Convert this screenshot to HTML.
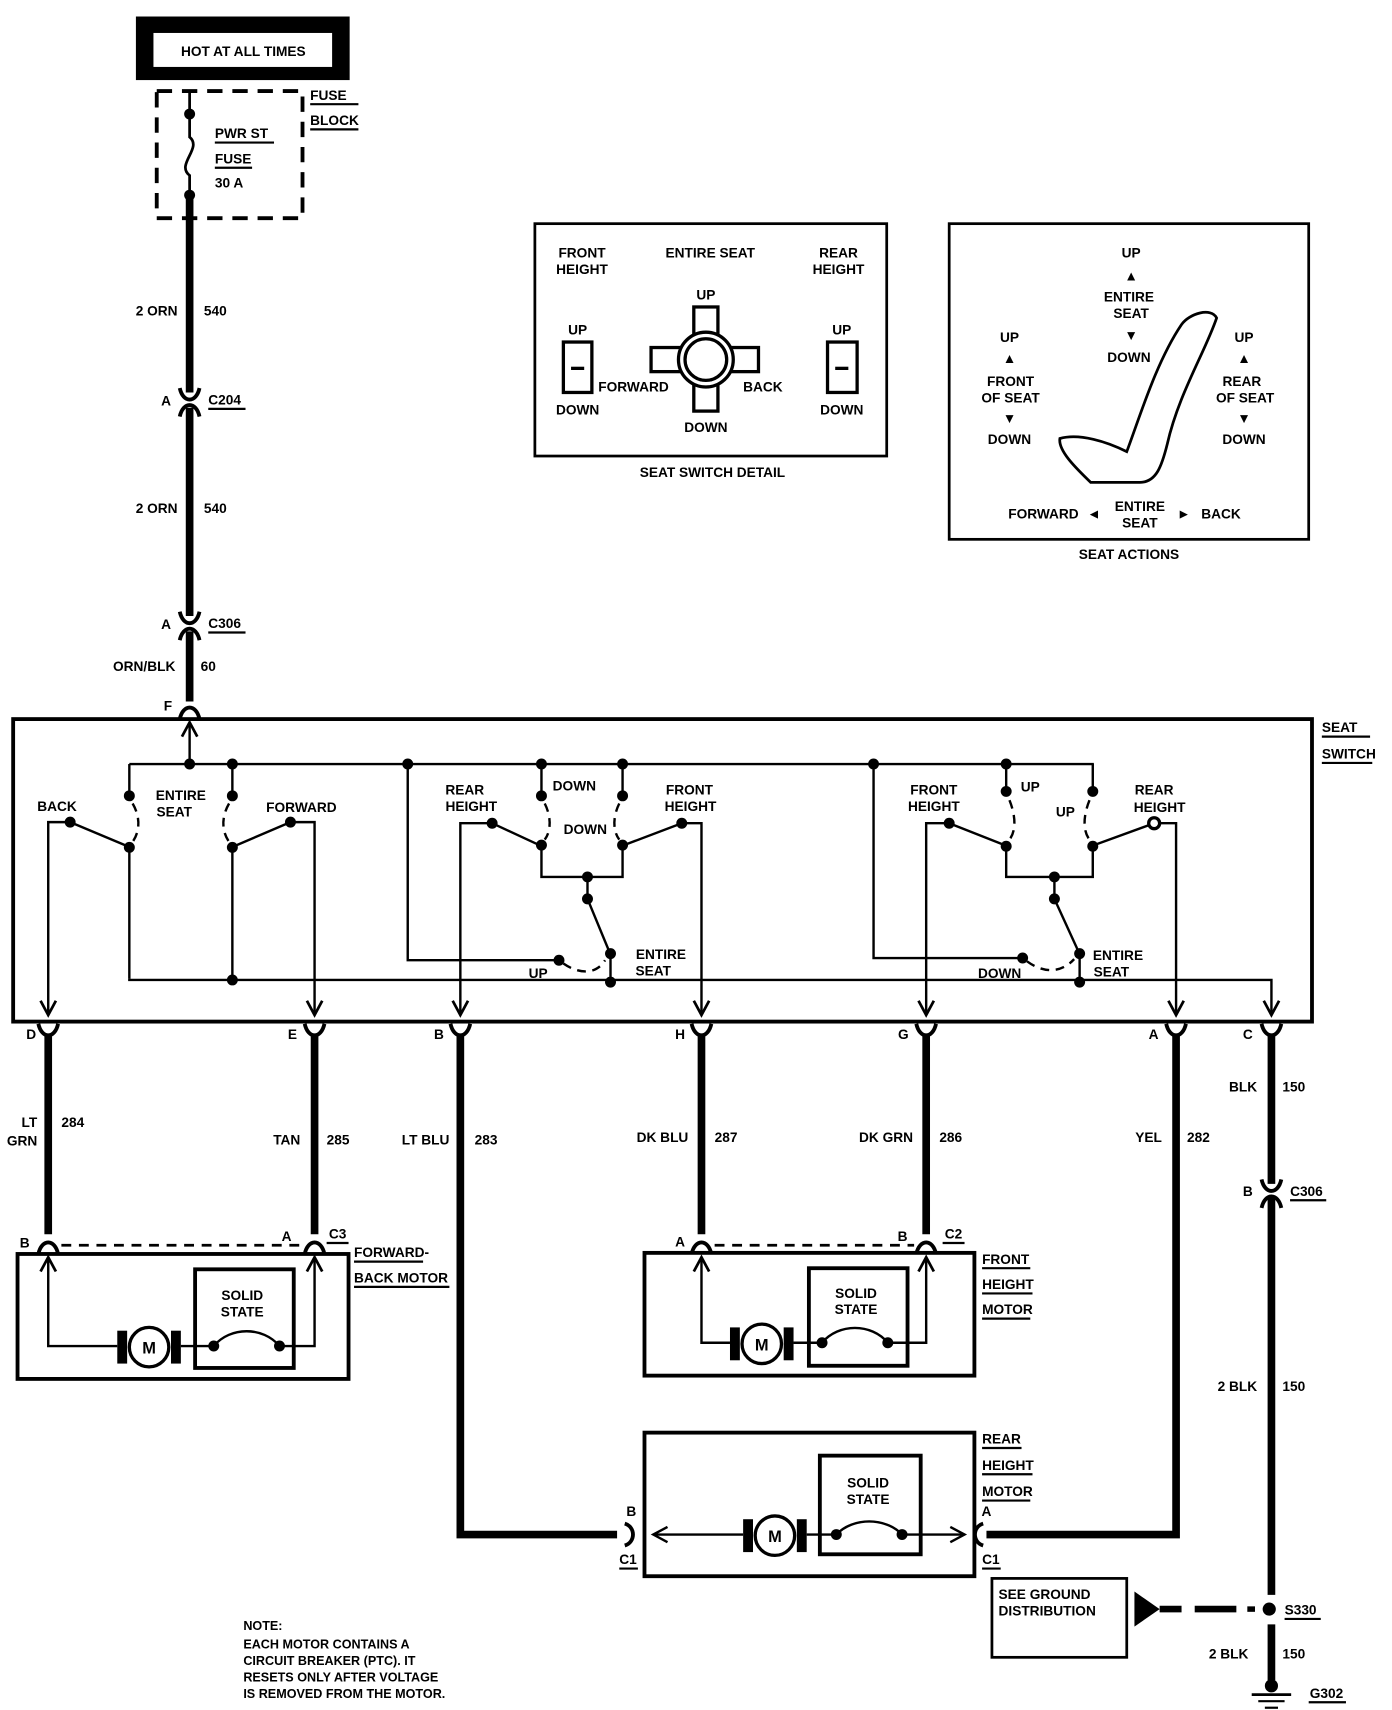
<!DOCTYPE html>
<html><head><meta charset="utf-8"><style>
html,body{margin:0;padding:0;background:#fff}
svg{display:block}
text{font-family:"Liberation Sans",sans-serif;font-weight:bold;font-size:12.5px;fill:#000}
.m{text-anchor:middle}.e{text-anchor:end}
</style></head><body>
<svg width="1392" height="1710" viewBox="0 0 1270 1560" xmlns="http://www.w3.org/2000/svg">
<defs>
<g id="dn"><polyline points="-7,-13 0,0 7,-13" fill="none" stroke="#000" stroke-width="2.5"/></g>
<g id="up"><polyline points="-7,13 0,0 7,13" fill="none" stroke="#000" stroke-width="2.5"/></g>
<g id="yc"><path d="M-9,-8 C-6,6 6,6 9,-8" fill="none" stroke="#000" stroke-width="3.5"/></g>
<g id="ac"><path d="M-9,8 C-6,-6 6,-6 9,8" fill="none" stroke="#000" stroke-width="3.5"/></g>
</defs>
<!-- HOT AT ALL TIMES -->
<rect x="124" y="15" width="195" height="58" fill="#000"/>
<rect x="140" y="30" width="163" height="31" fill="#fff"/>
<text x="222" y="51" class="m">HOT AT ALL TIMES</text>
<rect x="143" y="83" width="133" height="116" fill="none" stroke="#000" stroke-width="3.5" stroke-dasharray="14,9"/>
<text x="283" y="91">FUSE</text><line x1="283" y1="95" x2="327" y2="95" stroke="#000" stroke-width="2"/>
<text x="283" y="114">BLOCK</text><line x1="283" y1="118" x2="327" y2="118" stroke="#000" stroke-width="2"/>
<path d="M173,83 L173,104 L173,125 C185,135 160,150 173,160 L173,178" fill="none" stroke="#000" stroke-width="2.5"/>
<circle cx="173" cy="104" r="5"/><circle cx="173" cy="178" r="5"/>
<text x="196" y="126">PWR ST</text><line x1="196" y1="130" x2="250" y2="130" stroke="#000" stroke-width="2"/>
<text x="196" y="149">FUSE</text><line x1="196" y1="153" x2="230" y2="153" stroke="#000" stroke-width="2"/>
<text x="196" y="171">30 A</text>
<!-- main feed -->
<g stroke="#000" stroke-width="7">
<line x1="173" y1="178" x2="173" y2="358"/><line x1="173" y1="372" x2="173" y2="562"/>
<line x1="173" y1="576" x2="173" y2="640"/>
</g>
<use href="#yc" x="173" y="362"/><use href="#ac" x="173" y="372"/>
<use href="#yc" x="173" y="566"/><use href="#ac" x="173" y="576"/>
<use href="#ac" x="173" y="648"/>
<text x="162" y="288" class="e">2 ORN</text><text x="186" y="288">540</text>
<text x="156" y="370" class="e">A</text><text x="190" y="369">C204</text><line x1="190" y1="373" x2="224" y2="373" stroke="#000" stroke-width="2"/>
<text x="162" y="468" class="e">2 ORN</text><text x="186" y="468">540</text>
<text x="156" y="574" class="e">A</text><text x="190" y="573">C306</text><line x1="190" y1="577" x2="224" y2="577" stroke="#000" stroke-width="2"/>
<text x="160" y="612" class="e">ORN/BLK</text><text x="183" y="612">60</text>
<text x="157" y="648" class="e">F</text>
<!-- seat switch box -->
<rect x="12" y="656" width="1185" height="276" fill="none" stroke="#000" stroke-width="3.5"/>
<text x="1206" y="668">SEAT</text><line x1="1206" y1="672" x2="1250" y2="672" stroke="#000" stroke-width="2"/>
<text x="1206" y="692">SWITCH</text><line x1="1206" y1="696" x2="1252" y2="696" stroke="#000" stroke-width="2"/>
<g fill="none" stroke="#000" stroke-width="2.2">
<polyline points="173,697 173,660"/>
<line x1="118" y1="697" x2="998" y2="697"/>
<!-- left group -->
<polyline points="118,697 118,725"/><polyline points="118,773 118,893"/>
<polyline points="212,697 212,725"/><polyline points="212,773 212,893"/>
<path d="M121,733 C128,745 128,758 121,768" stroke-dasharray="8,6"/>
<path d="M209,733 C202,745 202,758 209,768" stroke-dasharray="8,6"/>
<polyline points="64,750 44,750 44,926"/><polyline points="265,750 287,750 287,926"/>
<line x1="64" y1="750" x2="114" y2="771"/><line x1="265" y1="750" x2="216" y2="771"/>
<!-- middle group -->
<polyline points="372,697 372,876 510,876"/>
<polyline points="494,697 494,725"/><polyline points="568,697 568,725"/>
<path d="M497,733 C503,745 503,758 497,766" stroke-dasharray="8,6"/>
<path d="M565,733 C559,745 559,758 565,766" stroke-dasharray="8,6"/>
<polyline points="494,771 494,800 568,800 568,771"/>
<line x1="536" y1="800" x2="536" y2="820"/>
<line x1="536" y1="820" x2="555" y2="866"/>
<path d="M514,879 C530,890 545,888 552,876" stroke-dasharray="8,6"/>
<line x1="557" y1="870" x2="557" y2="893"/>
<polyline points="449,751 420,751 420,926"/><polyline points="622,751 640,751 640,926"/>
<line x1="449" y1="751" x2="490" y2="770"/><line x1="622" y1="751" x2="572" y2="770"/>
<!-- right group -->
<polyline points="797,697 797,874 933,874"/>
<polyline points="918,697 918,722"/><polyline points="997,697 997,722"/>
<path d="M921,730 C927,745 927,758 921,766" stroke-dasharray="8,6"/>
<path d="M994,730 C988,745 988,758 994,766" stroke-dasharray="8,6"/>
<polyline points="918,772 918,800 997,800 997,772"/>
<line x1="962" y1="800" x2="962" y2="820"/>
<line x1="962" y1="820" x2="983" y2="866"/>
<path d="M937,877 C952,888 968,888 980,875" stroke-dasharray="8,6"/>
<line x1="985" y1="870" x2="985" y2="895"/>
<polyline points="866,751 845,751 845,926"/><polyline points="1053,751 1073,751 1073,926"/>
<line x1="866" y1="751" x2="914" y2="770"/><line x1="1053" y1="751" x2="1001" y2="770"/>
<!-- bottom line -->
<polyline points="118,893 118,894 1160,894 1160,926"/>
</g>
<use href="#up" x="173" y="659"/>
<g>
<use href="#dn" x="44" y="926"/><use href="#dn" x="287" y="926"/><use href="#dn" x="420" y="926"/><use href="#dn" x="640" y="926"/>
<use href="#dn" x="845" y="926"/><use href="#dn" x="1073" y="926"/><use href="#dn" x="1160" y="926"/>
</g>
<g>
<circle cx="173" cy="697" r="5"/><circle cx="212" cy="697" r="5"/><circle cx="118" cy="726" r="5"/><circle cx="212" cy="726" r="5"/>
<circle cx="118" cy="773" r="5"/><circle cx="212" cy="773" r="5"/><circle cx="64" cy="750" r="5"/><circle cx="265" cy="750" r="5"/><circle cx="212" cy="894" r="5"/>
<circle cx="372" cy="697" r="5"/><circle cx="494" cy="697" r="5"/><circle cx="568" cy="697" r="5"/><circle cx="494" cy="726" r="5"/><circle cx="568" cy="726" r="5"/>
<circle cx="494" cy="771" r="5"/><circle cx="568" cy="771" r="5"/><circle cx="449" cy="751" r="5"/><circle cx="622" cy="751" r="5"/>
<circle cx="536" cy="800" r="5"/><circle cx="536" cy="820" r="5"/><circle cx="557" cy="870" r="5"/><circle cx="510" cy="876" r="5"/><circle cx="557" cy="896" r="5"/>
<circle cx="797" cy="697" r="5"/><circle cx="918" cy="697" r="5"/><circle cx="918" cy="722" r="5"/><circle cx="997" cy="722" r="5"/>
<circle cx="918" cy="772" r="5"/><circle cx="997" cy="772" r="5"/><circle cx="866" cy="751" r="5"/><circle cx="1053" cy="751" r="5" fill="#fff" stroke="#000" stroke-width="3"/>
<circle cx="962" cy="800" r="5"/><circle cx="962" cy="820" r="5"/><circle cx="985" cy="870" r="5"/><circle cx="933" cy="874" r="5"/><circle cx="985" cy="896" r="5"/>
</g>
<text x="52" y="740" class="m">BACK</text><text x="165" y="730" class="m">ENTIRE</text><text x="159" y="745" class="m">SEAT</text><text x="275" y="741" class="m">FORWARD</text>
<text x="424" y="725" class="m">REAR</text><text x="430" y="740" class="m">HEIGHT</text>
<text x="524" y="721" class="m">DOWN</text><text x="534" y="761" class="m">DOWN</text>
<text x="629" y="725" class="m">FRONT</text><text x="630" y="740" class="m">HEIGHT</text>
<text x="603" y="875" class="m">ENTIRE</text><text x="596" y="890" class="m">SEAT</text><text x="491" y="892" class="m">UP</text>
<text x="852" y="725" class="m">FRONT</text><text x="852" y="740" class="m">HEIGHT</text>
<text x="940" y="722" class="m">UP</text><text x="972" y="745" class="m">UP</text>
<text x="1053" y="725" class="m">REAR</text><text x="1058" y="741" class="m">HEIGHT</text>
<text x="1020" y="876" class="m">ENTIRE</text><text x="1014" y="891" class="m">SEAT</text><text x="912" y="892" class="m">DOWN</text>
<!-- connectors under switch -->
<g>
<use href="#yc" x="44" y="942"/><use href="#yc" x="287" y="942"/><use href="#yc" x="420" y="942"/><use href="#yc" x="640" y="942"/>
<use href="#yc" x="845" y="942"/><use href="#yc" x="1073" y="942"/><use href="#yc" x="1160" y="942"/>
</g>
<text x="33" y="948" class="e">D</text><text x="271" y="948" class="e">E</text><text x="405" y="948" class="e">B</text><text x="625" y="948" class="e">H</text>
<text x="829" y="948" class="e">G</text><text x="1057" y="948" class="e">A</text><text x="1143" y="948" class="e">C</text>
<g stroke="#000" stroke-width="7" fill="none">
<line x1="44" y1="945" x2="44" y2="1126"/><line x1="287" y1="945" x2="287" y2="1126"/>
<polyline points="420,945 420,1400 563,1400"/>
<line x1="640" y1="945" x2="640" y2="1126"/><line x1="845" y1="945" x2="845" y2="1126"/>
<polyline points="1073,945 1073,1400 900,1400"/>
<line x1="1160" y1="945" x2="1160" y2="1080"/><line x1="1160" y1="1092" x2="1160" y2="1455"/>
<line x1="1160" y1="1482" x2="1160" y2="1533"/>
</g>
<use href="#yc" x="1160" y="1084"/><use href="#ac" x="1160" y="1094"/>
<text x="34" y="1028" class="e">LT</text><text x="34" y="1045" class="e">GRN</text><text x="56" y="1028">284</text>
<text x="274" y="1044" class="e">TAN</text><text x="298" y="1044">285</text>
<text x="410" y="1044" class="e">LT BLU</text><text x="433" y="1044">283</text>
<text x="628" y="1042" class="e">DK BLU</text><text x="652" y="1042">287</text>
<text x="833" y="1042" class="e">DK GRN</text><text x="857" y="1042">286</text>
<text x="1060" y="1042" class="e">YEL</text><text x="1083" y="1042">282</text>
<text x="1147" y="996" class="e">BLK</text><text x="1170" y="996">150</text>
<text x="1143" y="1091" class="e">B</text><text x="1177" y="1091">C306</text><line x1="1177" y1="1095" x2="1210" y2="1095" stroke="#000" stroke-width="2"/>
<text x="1147" y="1269" class="e">2 BLK</text><text x="1170" y="1269">150</text>
<!-- motor 1 -->
<use href="#ac" x="44" y="1136"/><use href="#ac" x="287" y="1136"/>
<line x1="56" y1="1136" x2="276" y2="1136" stroke="#000" stroke-width="2.5" stroke-dasharray="9,7"/>
<text x="27" y="1138" class="e">B</text><text x="266" y="1132" class="e">A</text>
<text x="300" y="1130">C3</text><line x1="298" y1="1134" x2="318" y2="1134" stroke="#000" stroke-width="2"/>
<rect x="16" y="1144" width="302" height="114" fill="none" stroke="#000" stroke-width="3.5"/>
<text x="323" y="1147">FORWARD-</text><line x1="323" y1="1151" x2="386" y2="1151" stroke="#000" stroke-width="2"/>
<text x="323" y="1170">BACK MOTOR</text><line x1="323" y1="1174" x2="410" y2="1174" stroke="#000" stroke-width="2"/>
<rect x="178" y="1158" width="90" height="90" fill="none" stroke="#000" stroke-width="3.5"/>
<text x="221" y="1186" class="m">SOLID</text><text x="221" y="1201" class="m">STATE</text>
<g fill="none" stroke="#000" stroke-width="2.2">
<polyline points="44,1148 44,1228 107,1228"/><polyline points="165,1228 195,1228"/>
<path d="M195,1228 C210,1210 240,1210 255,1228"/><polyline points="255,1228 287,1228 287,1148"/>
</g>
<use href="#up" x="44" y="1147"/><use href="#up" x="287" y="1147"/>
<rect x="107" y="1214" width="9" height="30"/><rect x="156" y="1214" width="9" height="30"/>
<circle cx="136" cy="1229" r="18" fill="#fff" stroke="#000" stroke-width="3"/><text x="136" y="1235" class="m" style="font-size:15px">M</text>
<circle cx="195" cy="1228" r="5"/><circle cx="255" cy="1228" r="5"/>
<!-- motor 2 -->
<use href="#ac" x="640" y="1136"/><use href="#ac" x="845" y="1136"/>
<line x1="652" y1="1136" x2="834" y2="1136" stroke="#000" stroke-width="2.5" stroke-dasharray="9,7"/>
<text x="625" y="1137" class="e">A</text><text x="828" y="1132" class="e">B</text>
<text x="862" y="1130">C2</text><line x1="860" y1="1134" x2="880" y2="1134" stroke="#000" stroke-width="2"/>
<rect x="588" y="1143" width="301" height="112" fill="none" stroke="#000" stroke-width="3.5"/>
<text x="896" y="1153">FRONT</text><line x1="896" y1="1157" x2="940" y2="1157" stroke="#000" stroke-width="2"/>
<text x="896" y="1176">HEIGHT</text><line x1="896" y1="1180" x2="942" y2="1180" stroke="#000" stroke-width="2"/>
<text x="896" y="1199">MOTOR</text><line x1="896" y1="1203" x2="940" y2="1203" stroke="#000" stroke-width="2"/>
<rect x="738" y="1157" width="90" height="89" fill="none" stroke="#000" stroke-width="3.5"/>
<text x="781" y="1184" class="m">SOLID</text><text x="781" y="1199" class="m">STATE</text>
<g fill="none" stroke="#000" stroke-width="2.2">
<polyline points="640,1148 640,1225 666,1225"/><polyline points="724,1225 750,1225"/>
<path d="M750,1225 C765,1207 795,1207 810,1225"/><polyline points="810,1225 845,1225 845,1148"/>
</g>
<use href="#up" x="640" y="1147"/><use href="#up" x="845" y="1147"/>
<rect x="666" y="1211" width="9" height="30"/><rect x="715" y="1211" width="9" height="30"/>
<circle cx="695" cy="1226" r="18" fill="#fff" stroke="#000" stroke-width="3"/><text x="695" y="1232" class="m" style="font-size:15px">M</text>
<circle cx="750" cy="1225" r="5"/><circle cx="810" cy="1225" r="5"/>
<!-- motor 3 -->
<rect x="588" y="1307" width="301" height="131" fill="none" stroke="#000" stroke-width="3.5"/>
<text x="896" y="1317">REAR</text><line x1="896" y1="1321" x2="932" y2="1321" stroke="#000" stroke-width="2"/>
<text x="896" y="1341">HEIGHT</text><line x1="896" y1="1345" x2="942" y2="1345" stroke="#000" stroke-width="2"/>
<text x="896" y="1365">MOTOR</text><line x1="896" y1="1369" x2="940" y2="1369" stroke="#000" stroke-width="2"/>
<rect x="748" y="1328" width="92" height="90" fill="none" stroke="#000" stroke-width="3.5"/>
<text x="792" y="1357" class="m">SOLID</text><text x="792" y="1372" class="m">STATE</text>
<g fill="none" stroke="#000" stroke-width="2.2">
<polyline points="597,1400 678,1400"/><polyline points="736,1400 763,1400"/>
<path d="M763,1400 C778,1384 808,1384 823,1400"/><polyline points="823,1400 880,1400"/>
<polyline points="609,1393 596,1400 609,1407"/><polyline points="867,1393 880,1400 867,1407"/>
<path d="M570,1390 C580,1393 580,1407 570,1410" stroke-width="3.5"/>
<path d="M897,1390 C887,1393 887,1407 897,1410" stroke-width="3.5"/>
</g>
<rect x="678" y="1386" width="9" height="30"/><rect x="727" y="1386" width="9" height="30"/>
<circle cx="707" cy="1401" r="18" fill="#fff" stroke="#000" stroke-width="3"/><text x="707" y="1407" class="m" style="font-size:15px">M</text>
<circle cx="763" cy="1400" r="5"/><circle cx="823" cy="1400" r="5"/>
<text x="576" y="1383" class="m">B</text><text x="573" y="1427" class="m">C1</text><line x1="565" y1="1431" x2="582" y2="1431" stroke="#000" stroke-width="2"/>
<text x="900" y="1383" class="m">A</text><text x="904" y="1427" class="m">C1</text><line x1="896" y1="1431" x2="913" y2="1431" stroke="#000" stroke-width="2"/>
<!-- ground -->
<rect x="905" y="1440" width="123" height="72" fill="none" stroke="#000" stroke-width="2.5"/>
<text x="911" y="1459">SEE GROUND</text><text x="911" y="1474">DISTRIBUTION</text>
<polygon points="1035,1452 1035,1484 1058,1468" />
<line x1="1058" y1="1468" x2="1078" y2="1468" stroke="#000" stroke-width="6"/>
<line x1="1090" y1="1468" x2="1128" y2="1468" stroke="#000" stroke-width="6"/>
<line x1="1138" y1="1468" x2="1145" y2="1468" stroke="#000" stroke-width="5"/>
<circle cx="1158" cy="1468" r="6"/>
<text x="1172" y="1473">S330</text><line x1="1172" y1="1477" x2="1205" y2="1477" stroke="#000" stroke-width="2"/>
<text x="1139" y="1513" class="e">2 BLK</text><text x="1170" y="1513">150</text>
<circle cx="1160" cy="1538" r="6"/>
<line x1="1142" y1="1546" x2="1178" y2="1546" stroke="#000" stroke-width="2.5"/>
<line x1="1148" y1="1552" x2="1172" y2="1552" stroke="#000" stroke-width="2"/>
<line x1="1154" y1="1558" x2="1166" y2="1558" stroke="#000" stroke-width="2"/>
<text x="1195" y="1549">G302</text><line x1="1194" y1="1553" x2="1228" y2="1553" stroke="#000" stroke-width="2"/>
<!-- note -->
<g style="font-size:11.5px"><text x="222" y="1487" style="font-size:11.5px">NOTE:</text>
<text x="222" y="1504" style="font-size:11.5px">EACH MOTOR CONTAINS A</text>
<text x="222" y="1519" style="font-size:11.5px">CIRCUIT BREAKER (PTC). IT</text>
<text x="222" y="1534" style="font-size:11.5px">RESETS ONLY AFTER VOLTAGE</text>
<text x="222" y="1549" style="font-size:11.5px">IS REMOVED FROM THE MOTOR.</text></g>
<!-- seat switch detail -->
<rect x="488" y="204" width="321" height="212" fill="none" stroke="#000" stroke-width="2.5"/>
<text x="531" y="235" class="m">FRONT</text><text x="531" y="250" class="m">HEIGHT</text>
<text x="648" y="235" class="m">ENTIRE SEAT</text>
<text x="765" y="235" class="m">REAR</text><text x="765" y="250" class="m">HEIGHT</text>
<text x="527" y="305" class="m">UP</text><text x="527" y="378" class="m">DOWN</text>
<rect x="514" y="312" width="26" height="46" fill="none" stroke="#000" stroke-width="3"/><line x1="521" y1="336" x2="533" y2="336" stroke="#000" stroke-width="3"/>
<text x="768" y="305" class="m">UP</text><text x="768" y="378" class="m">DOWN</text>
<rect x="755" y="312" width="27" height="46" fill="none" stroke="#000" stroke-width="3"/><line x1="762" y1="336" x2="774" y2="336" stroke="#000" stroke-width="3"/>
<g fill="#fff" stroke="#000" stroke-width="3">
<rect x="633" y="280" width="22" height="28"/><rect x="633" y="348" width="22" height="27"/>
<rect x="594" y="317" width="30" height="22"/><rect x="664" y="317" width="28" height="22"/>
<circle cx="644" cy="328" r="25"/></g>
<circle cx="644" cy="328" r="19" fill="none" stroke="#000" stroke-width="3"/>
<text x="644" y="273" class="m">UP</text><text x="644" y="394" class="m">DOWN</text>
<text x="578" y="357" class="m">FORWARD</text><text x="696" y="357" class="m">BACK</text>
<text x="650" y="435" class="m">SEAT SWITCH DETAIL</text>
<!-- seat actions -->
<rect x="866" y="204" width="328" height="288" fill="none" stroke="#000" stroke-width="2.5"/>
<text x="1032" y="235" class="m">UP</text><text x="1032" y="256" class="m">▲</text>
<text x="1030" y="275" class="m">ENTIRE</text><text x="1032" y="290" class="m">SEAT</text>
<text x="1032" y="310" class="m">▼</text><text x="1030" y="330" class="m">DOWN</text>
<text x="921" y="312" class="m">UP</text><text x="921" y="331" class="m">▲</text>
<text x="922" y="352" class="m">FRONT</text><text x="922" y="367" class="m">OF SEAT</text>
<text x="921" y="386" class="m">▼</text><text x="921" y="405" class="m">DOWN</text>
<text x="1135" y="312" class="m">UP</text><text x="1135" y="331" class="m">▲</text>
<text x="1133" y="352" class="m">REAR</text><text x="1136" y="367" class="m">OF SEAT</text>
<text x="1135" y="386" class="m">▼</text><text x="1135" y="405" class="m">DOWN</text>
<text x="952" y="473" class="m">FORWARD</text><text x="998" y="473" class="m">◄</text>
<text x="1040" y="466" class="m">ENTIRE</text><text x="1040" y="481" class="m">SEAT</text>
<text x="1080" y="473" class="m">►</text><text x="1114" y="473" class="m">BACK</text>
<path d="M1078,296 C1085,286 1105,280 1110,290 C1100,320 1075,360 1065,405 C1060,425 1055,440 1040,440 L995,440 C985,430 965,412 967,400 C985,395 1010,403 1028,412 C1040,380 1055,330 1078,296 Z" fill="none" stroke="#000" stroke-width="2.5"/>
<text x="1030" y="510" class="m">SEAT ACTIONS</text>
</svg>
</body></html>
